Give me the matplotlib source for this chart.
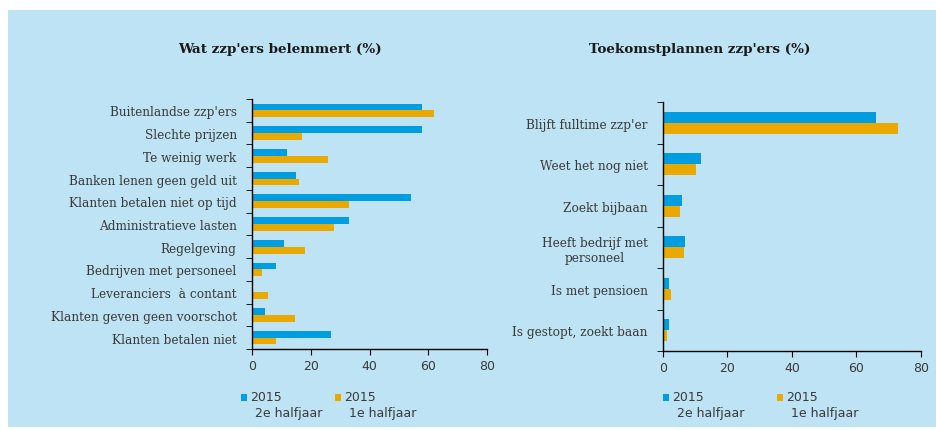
import numpy as np
import matplotlib
matplotlib.use("Agg")
import matplotlib.pyplot as plt
from matplotlib.patches import Rectangle

# data
left_cats = ["Buitenlandse zzp'ers", "Slechte prijzen", "Te weinig werk",
             "Banken lenen geen geld uit", "Klanten betalen niet op tijd",
             "Administratieve lasten", "Regelgeving", "Bedrijven met personeel",
             "Leveranciers  à contant", "Klanten geven geen voorschot",
             "Klanten betalen niet"]
left_h2 = [58, 58, 12, 15, 54, 33, 11, 8, 0, 4.5, 27]
left_h1 = [62, 17, 26, 16, 33, 28, 18, 3.5, 5.5, 14.5, 8]

right_cats = ["Blijft fulltime zzp'er", "Weet het nog niet", "Zoekt bijbaan",
              "Heeft bedrijf met\npersoneel", "Is met pensioen",
              "Is gestopt, zoekt baan"]
right_h2 = [66, 11.7, 5.9, 6.8, 2.0, 2.0]
right_h1 = [73, 10.1, 5.3, 6.6, 2.6, 1.3]

legend_labels = ["2015\n2e halfjaar", "2015\n1e halfjaar"]
xticks = [0, 20, 40, 60, 80]

BLUE = "#009ee0"
ORANGE = "#e9a900"
BG = "#bde3f5"
TXT = "#3a3a3a"

fig = plt.figure(figsize=(9.37, 4.31), dpi=100)
fig.patch.set_facecolor("white")
fig.patches.append(Rectangle((8 / 937, 0.007), 1, 1 - 11 / 431 - 0.007,
                             transform=fig.transFigure, facecolor=BG,
                             edgecolor="none", zorder=-10))


def draw(ax, cats, h2, h1, barh):
    n = len(cats)
    y = np.arange(n)
    ax.barh(y - barh / 2, h2, height=barh, color=BLUE, edgecolor="none")
    ax.barh(y + barh / 2, h1, height=barh, color=ORANGE, edgecolor="none")
    ax.set_ylim(n - 0.5, -0.5)
    ax.set_xlim(0, 80)
    ax.set_facecolor("none")
    for s in ["top", "right"]:
        ax.spines[s].set_visible(False)
    for s in ["left", "bottom"]:
        ax.spines[s].set_color("black")
        ax.spines[s].set_linewidth(1.0)
    ax.set_yticks(y)
    labels = ax.set_yticklabels(cats, family="DejaVu Serif", fontsize=8.7, color=TXT)
    for t in labels:
        t.set_multialignment("center")
    ax.set_yticks(np.arange(n + 1) - 0.5, minor=True)
    ax.tick_params(axis="y", which="major", length=0, pad=11)
    ax.tick_params(axis="y", which="minor", length=4, direction="out", color="black")
    ax.set_xticks(xticks)
    ax.tick_params(axis="x", length=4, direction="out", color="black",
                   labelsize=9, labelcolor=TXT)


ax1 = fig.add_axes([252 / 937, 1 - 350 / 431, 235 / 937, 250 / 431])
draw(ax1, left_cats, left_h2, left_h1, 0.3)
ax2 = fig.add_axes([663 / 937, 1 - 352 / 431, 258 / 937, 249 / 431])
draw(ax2, right_cats, right_h2, right_h1, 0.27)

fig.text(280 / 937, 1 - 50 / 431, "Wat zzp'ers belemmert (%)", ha="center",
         va="center", family="DejaVu Serif", fontweight="bold", fontsize=9.7,
         color="#1a1a1a")
fig.text(700 / 937, 1 - 50 / 431, "Toekomstplannen zzp'ers (%)", ha="center",
         va="center", family="DejaVu Serif", fontweight="bold", fontsize=9.7,
         color="#1a1a1a")

# legends
for xs in [(241, 335), (663, 777)]:
    for x, col, lab in zip(xs, [BLUE, ORANGE], legend_labels):
        fig.patches.append(Rectangle((x / 937, 1 - 402 / 431), 6 / 937, 7 / 431,
                                     transform=fig.transFigure, facecolor=col,
                                     edgecolor="none"))
        top, bottom = lab.split("\n")
        fig.text((x + 9) / 937, 1 - 398 / 431, top, ha="left", va="center",
                 fontsize=9, color=TXT)
        fig.text((x + 14) / 937, 1 - 414 / 431, bottom, ha="left", va="center",
                 fontsize=9, color=TXT)

fig.savefig("out.png", dpi=100)
